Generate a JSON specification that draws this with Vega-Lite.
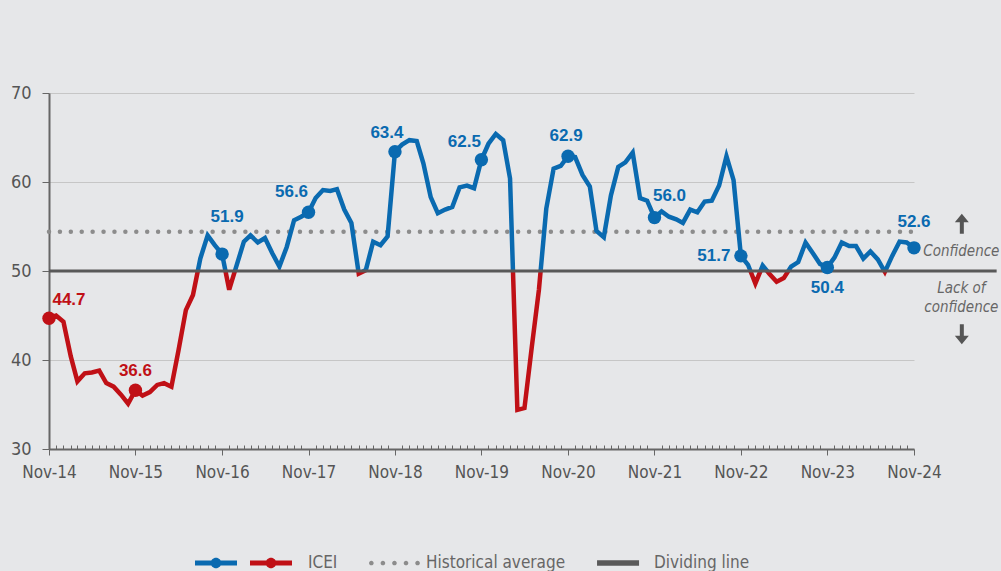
{
  "$schema": "https://vega.github.io/schema/vega-lite/v6.json",
  "width": 865,
  "height": 356,
  "autosize": "none",
  "padding": {"left": 49, "top": 93, "right": 87, "bottom": 122},
  "background": "#e6e7e9",
  "config": {
    "view": {"stroke": null},
    "axis": {"labelFont": "DejaVu Sans Condensed, sans-serif"},
    "text": {"font": "Liberation Sans, sans-serif"},
    "legend": {"labelFont": "DejaVu Sans Condensed, sans-serif"}
  },
  "resolve": {
    "scale": {"fill": "independent", "shape": "independent"},
    "legend": {"fill": "independent", "shape": "independent"}
  },
  "datasets": {
    "icei": [
      {"d": "2014-11-01T00:00", "v": 44.7}, {"d": "2014-12-01T00:00", "v": 45.0},
      {"d": "2015-01-01T00:00", "v": 44.3}, {"d": "2015-02-01T00:00", "v": 40.4},
      {"d": "2015-03-01T00:00", "v": 37.6}, {"d": "2015-04-01T00:00", "v": 38.5},
      {"d": "2015-05-01T00:00", "v": 38.6}, {"d": "2015-06-01T00:00", "v": 38.8},
      {"d": "2015-07-01T00:00", "v": 37.4}, {"d": "2015-08-01T00:00", "v": 37.0},
      {"d": "2015-09-01T00:00", "v": 36.1}, {"d": "2015-10-01T00:00", "v": 35.1},
      {"d": "2015-11-01T00:00", "v": 36.6}, {"d": "2015-12-01T00:00", "v": 36.0},
      {"d": "2016-01-01T00:00", "v": 36.4}, {"d": "2016-02-01T00:00", "v": 37.2},
      {"d": "2016-03-01T00:00", "v": 37.4}, {"d": "2016-04-01T00:00", "v": 37.0},
      {"d": "2016-05-01T00:00", "v": 41.1}, {"d": "2016-06-01T00:00", "v": 45.6},
      {"d": "2016-07-01T00:00", "v": 47.3}, {"d": "2016-08-01T00:00", "v": 51.4},
      {"d": "2016-09-01T00:00", "v": 54.0}, {"d": "2016-10-01T00:00", "v": 52.9},
      {"d": "2016-11-01T00:00", "v": 51.9}, {"d": "2016-12-01T00:00", "v": 47.9},
      {"d": "2017-01-01T00:00", "v": 50.6}, {"d": "2017-02-01T00:00", "v": 53.3},
      {"d": "2017-03-01T00:00", "v": 54.0}, {"d": "2017-04-01T00:00", "v": 53.2},
      {"d": "2017-05-01T00:00", "v": 53.7}, {"d": "2017-06-01T00:00", "v": 52.0},
      {"d": "2017-07-01T00:00", "v": 50.5}, {"d": "2017-08-01T00:00", "v": 52.7},
      {"d": "2017-09-01T00:00", "v": 55.7}, {"d": "2017-10-01T00:00", "v": 56.1},
      {"d": "2017-11-01T00:00", "v": 56.6}, {"d": "2017-12-01T00:00", "v": 58.2},
      {"d": "2018-01-01T00:00", "v": 59.1}, {"d": "2018-02-01T00:00", "v": 59.0},
      {"d": "2018-03-01T00:00", "v": 59.2}, {"d": "2018-04-01T00:00", "v": 56.9},
      {"d": "2018-05-01T00:00", "v": 55.4}, {"d": "2018-06-01T00:00", "v": 49.7},
      {"d": "2018-07-01T00:00", "v": 50.1}, {"d": "2018-08-01T00:00", "v": 53.3},
      {"d": "2018-09-01T00:00", "v": 52.9}, {"d": "2018-10-01T00:00", "v": 53.9},
      {"d": "2018-11-01T00:00", "v": 63.4}, {"d": "2018-12-01T00:00", "v": 64.2},
      {"d": "2019-01-01T00:00", "v": 64.7}, {"d": "2019-02-01T00:00", "v": 64.6},
      {"d": "2019-03-01T00:00", "v": 62.1}, {"d": "2019-04-01T00:00", "v": 58.3},
      {"d": "2019-05-01T00:00", "v": 56.5}, {"d": "2019-06-01T00:00", "v": 56.9},
      {"d": "2019-07-01T00:00", "v": 57.2}, {"d": "2019-08-01T00:00", "v": 59.4},
      {"d": "2019-09-01T00:00", "v": 59.6}, {"d": "2019-10-01T00:00", "v": 59.3},
      {"d": "2019-11-01T00:00", "v": 62.5}, {"d": "2019-12-01T00:00", "v": 64.3},
      {"d": "2020-01-01T00:00", "v": 65.4}, {"d": "2020-02-01T00:00", "v": 64.7},
      {"d": "2020-03-01T00:00", "v": 60.4}, {"d": "2020-04-01T00:00", "v": 34.4},
      {"d": "2020-05-01T00:00", "v": 34.6}, {"d": "2020-06-01T00:00", "v": 41.5},
      {"d": "2020-07-01T00:00", "v": 47.9}, {"d": "2020-08-01T00:00", "v": 57.0},
      {"d": "2020-09-01T00:00", "v": 61.5}, {"d": "2020-10-01T00:00", "v": 61.8},
      {"d": "2020-11-01T00:00", "v": 62.9}, {"d": "2020-12-01T00:00", "v": 62.8},
      {"d": "2021-01-01T00:00", "v": 60.8}, {"d": "2021-02-01T00:00", "v": 59.5},
      {"d": "2021-03-01T00:00", "v": 54.5}, {"d": "2021-04-01T00:00", "v": 53.8},
      {"d": "2021-05-01T00:00", "v": 58.5}, {"d": "2021-06-01T00:00", "v": 61.7},
      {"d": "2021-07-01T00:00", "v": 62.2}, {"d": "2021-08-01T00:00", "v": 63.3},
      {"d": "2021-09-01T00:00", "v": 58.2}, {"d": "2021-10-01T00:00", "v": 57.9},
      {"d": "2021-11-01T00:00", "v": 56.0}, {"d": "2021-12-01T00:00", "v": 56.7},
      {"d": "2022-01-01T00:00", "v": 56.1}, {"d": "2022-02-01T00:00", "v": 55.8},
      {"d": "2022-03-01T00:00", "v": 55.4}, {"d": "2022-04-01T00:00", "v": 56.9},
      {"d": "2022-05-01T00:00", "v": 56.6}, {"d": "2022-06-01T00:00", "v": 57.8},
      {"d": "2022-07-01T00:00", "v": 57.9}, {"d": "2022-08-01T00:00", "v": 59.6},
      {"d": "2022-09-01T00:00", "v": 62.9}, {"d": "2022-10-01T00:00", "v": 60.2},
      {"d": "2022-11-01T00:00", "v": 51.7}, {"d": "2022-12-01T00:00", "v": 50.7},
      {"d": "2023-01-01T00:00", "v": 48.6}, {"d": "2023-02-01T00:00", "v": 50.6},
      {"d": "2023-03-01T00:00", "v": 49.7}, {"d": "2023-04-01T00:00", "v": 48.8},
      {"d": "2023-05-01T00:00", "v": 49.2}, {"d": "2023-06-01T00:00", "v": 50.5},
      {"d": "2023-07-01T00:00", "v": 51.0}, {"d": "2023-08-01T00:00", "v": 53.2},
      {"d": "2023-09-01T00:00", "v": 52.0}, {"d": "2023-10-01T00:00", "v": 50.8},
      {"d": "2023-11-01T00:00", "v": 50.4}, {"d": "2023-12-01T00:00", "v": 51.5},
      {"d": "2024-01-01T00:00", "v": 53.2}, {"d": "2024-02-01T00:00", "v": 52.8},
      {"d": "2024-03-01T00:00", "v": 52.8}, {"d": "2024-04-01T00:00", "v": 51.4},
      {"d": "2024-05-01T00:00", "v": 52.2}, {"d": "2024-06-01T00:00", "v": 51.3},
      {"d": "2024-07-01T00:00", "v": 49.9}, {"d": "2024-08-01T00:00", "v": 51.7},
      {"d": "2024-09-01T00:00", "v": 53.3}, {"d": "2024-10-01T00:00", "v": 53.2},
      {"d": "2024-11-01T00:00", "v": 52.6}
    ]
  },
  "data": {"name": "icei"},
  "encoding": {
    "x": {
      "field": "d", "type": "temporal", "title": null,
      "scale": {"domain": [{"year": 2014, "month": 11, "date": 1}, {"year": 2024, "month": 11, "date": 1}], "nice": false},
      "axis": {
        "format": "%b-%y",
        "tickCount": {"interval": "month", "step": 1},
        "labelExpr": "month(datum.value) == 10 ? datum.label : ''",
        "labelOverlap": false, "labelFlush": false, "labelBound": false,
        "labelFontSize": 17, "labelColor": "#555", "labelPadding": 9,
        "tickSize": {"condition": {"test": "month(datum.value) == 10", "value": 6}, "value": -4},
        "tickColor": "#666", "tickWidth": 1,
        "domainColor": "#666", "domainWidth": 2, "grid": false
      }
    },
    "y": {
      "field": "v", "type": "quantitative", "title": null,
      "scale": {"domain": [30, 70], "nice": false, "zero": false},
      "axis": {
        "values": [30, 40, 50, 60, 70],
        "labelFontSize": 18, "labelColor": "#555", "labelPadding": 11,
        "tickSize": 7, "tickColor": "#666", "tickWidth": 1,
        "domainColor": "#666", "domainWidth": 2,
        "grid": true, "gridColor": "#c6c6c6", "gridWidth": 1
      }
    }
  },
  "layer": [
    {
      "data": {"values": [{"d": "2014-11-01T00:00", "d2": "2024-11-01T00:00", "v": 54.4}]},
      "mark": {"type": "rule", "color": "#8c8c8c", "strokeWidth": 4.5, "strokeDash": [0.01, 10.9], "strokeCap": "round"},
      "encoding": {"x2": {"field": "d2"}}
    },
    {
      "mark": {
        "type": "line", "strokeWidth": 4.5,
        "stroke": {
          "gradient": "linear", "x1": 0, "y1": 0, "x2": 0, "y2": 1,
          "stops": [
            {"offset": 0, "color": "#0a6ab0"},
            {"offset": 0.4968, "color": "#0a6ab0"},
            {"offset": 0.4968, "color": "#c01016"},
            {"offset": 1, "color": "#c01016"}
          ]
        }
      }
    },
    {
      "data": {"values": [{"d": "2014-11-01T00:00", "d2": "2025-10-16T00:00", "v": 50}]},
      "mark": {"type": "rule", "color": "#595959", "strokeWidth": 3},
      "encoding": {"x2": {"field": "d2"}}
    },
    {
      "transform": [{"filter": {"field": "d", "timeUnit": "month", "equal": 11}}],
      "mark": {"type": "point", "filled": true, "size": 180, "opacity": 1},
      "encoding": {"color": {"condition": {"test": "datum.v < 50", "value": "#c01016"}, "value": "#0a6ab0"}}
    },
    {
      "transform": [{"filter": {"field": "d", "timeUnit": "year", "equal": 2014}}, {"filter": {"field": "d", "timeUnit": "month", "equal": 11}}],
      "mark": {"type": "text", "dx": 20, "dy": -18, "fontSize": 17, "fontWeight": "bold"},
      "encoding": {"text": {"field": "v", "type": "quantitative", "format": ".1f"}, "color": {"condition": {"test": "datum.v < 50", "value": "#c01016"}, "value": "#0a6ab0"}}
    },
    {
      "transform": [{"filter": {"field": "d", "timeUnit": "year", "equal": 2015}}, {"filter": {"field": "d", "timeUnit": "month", "equal": 11}}],
      "mark": {"type": "text", "dx": 0, "dy": -19, "fontSize": 17, "fontWeight": "bold"},
      "encoding": {"text": {"field": "v", "type": "quantitative", "format": ".1f"}, "color": {"condition": {"test": "datum.v < 50", "value": "#c01016"}, "value": "#0a6ab0"}}
    },
    {
      "transform": [{"filter": {"field": "d", "timeUnit": "year", "equal": 2016}}, {"filter": {"field": "d", "timeUnit": "month", "equal": 11}}],
      "mark": {"type": "text", "dx": 5, "dy": -37, "fontSize": 17, "fontWeight": "bold"},
      "encoding": {"text": {"field": "v", "type": "quantitative", "format": ".1f"}, "color": {"condition": {"test": "datum.v < 50", "value": "#c01016"}, "value": "#0a6ab0"}}
    },
    {
      "transform": [{"filter": {"field": "d", "timeUnit": "year", "equal": 2017}}, {"filter": {"field": "d", "timeUnit": "month", "equal": 11}}],
      "mark": {"type": "text", "dx": -17, "dy": -20, "fontSize": 17, "fontWeight": "bold"},
      "encoding": {"text": {"field": "v", "type": "quantitative", "format": ".1f"}, "color": {"condition": {"test": "datum.v < 50", "value": "#c01016"}, "value": "#0a6ab0"}}
    },
    {
      "transform": [{"filter": {"field": "d", "timeUnit": "year", "equal": 2018}}, {"filter": {"field": "d", "timeUnit": "month", "equal": 11}}],
      "mark": {"type": "text", "dx": -8, "dy": -19, "fontSize": 17, "fontWeight": "bold"},
      "encoding": {"text": {"field": "v", "type": "quantitative", "format": ".1f"}, "color": {"condition": {"test": "datum.v < 50", "value": "#c01016"}, "value": "#0a6ab0"}}
    },
    {
      "transform": [{"filter": {"field": "d", "timeUnit": "year", "equal": 2019}}, {"filter": {"field": "d", "timeUnit": "month", "equal": 11}}],
      "mark": {"type": "text", "dx": -17, "dy": -18, "fontSize": 17, "fontWeight": "bold"},
      "encoding": {"text": {"field": "v", "type": "quantitative", "format": ".1f"}, "color": {"condition": {"test": "datum.v < 50", "value": "#c01016"}, "value": "#0a6ab0"}}
    },
    {
      "transform": [{"filter": {"field": "d", "timeUnit": "year", "equal": 2020}}, {"filter": {"field": "d", "timeUnit": "month", "equal": 11}}],
      "mark": {"type": "text", "dx": -2, "dy": -20, "fontSize": 17, "fontWeight": "bold"},
      "encoding": {"text": {"field": "v", "type": "quantitative", "format": ".1f"}, "color": {"condition": {"test": "datum.v < 50", "value": "#c01016"}, "value": "#0a6ab0"}}
    },
    {
      "transform": [{"filter": {"field": "d", "timeUnit": "year", "equal": 2021}}, {"filter": {"field": "d", "timeUnit": "month", "equal": 11}}],
      "mark": {"type": "text", "dx": 15, "dy": -22, "fontSize": 17, "fontWeight": "bold"},
      "encoding": {"text": {"field": "v", "type": "quantitative", "format": ".1f"}, "color": {"condition": {"test": "datum.v < 50", "value": "#c01016"}, "value": "#0a6ab0"}}
    },
    {
      "transform": [{"filter": {"field": "d", "timeUnit": "year", "equal": 2022}}, {"filter": {"field": "d", "timeUnit": "month", "equal": 11}}],
      "mark": {"type": "text", "dx": -27, "dy": 0, "fontSize": 17, "fontWeight": "bold"},
      "encoding": {"text": {"field": "v", "type": "quantitative", "format": ".1f"}, "color": {"condition": {"test": "datum.v < 50", "value": "#c01016"}, "value": "#0a6ab0"}}
    },
    {
      "transform": [{"filter": {"field": "d", "timeUnit": "year", "equal": 2023}}, {"filter": {"field": "d", "timeUnit": "month", "equal": 11}}],
      "mark": {"type": "text", "dx": 0, "dy": 21, "fontSize": 17, "fontWeight": "bold"},
      "encoding": {"text": {"field": "v", "type": "quantitative", "format": ".1f"}, "color": {"condition": {"test": "datum.v < 50", "value": "#c01016"}, "value": "#0a6ab0"}}
    },
    {
      "transform": [{"filter": {"field": "d", "timeUnit": "year", "equal": 2024}}, {"filter": {"field": "d", "timeUnit": "month", "equal": 11}}],
      "mark": {"type": "text", "dx": 0, "dy": -26, "fontSize": 17, "fontWeight": "bold"},
      "encoding": {"text": {"field": "v", "type": "quantitative", "format": ".1f"}, "color": {"condition": {"test": "datum.v < 50", "value": "#c01016"}, "value": "#0a6ab0"}}
    },
    {
      "data": {"values": [
        {"d": "2025-05-20T00:00", "v": 52.2, "t": "Confidence"},
        {"d": "2025-05-20T00:00", "v": 48.1, "t": "Lack of"},
        {"d": "2025-05-20T00:00", "v": 46.0, "t": "confidence"}
      ]},
      "mark": {"type": "text", "font": "DejaVu Sans Condensed, sans-serif", "fontSize": 15, "fontStyle": "italic", "color": "#666"},
      "encoding": {"text": {"field": "t"}}
    },
    {
      "data": {"values": [{"d": "2025-05-22T00:00", "v": 55.3}]},
      "mark": {"type": "point", "shape": "M-0.2,1H0.2V-0.15H0.7L0,-1L-0.7,-0.15H-0.2Z", "size": 400, "filled": true, "color": "#555", "opacity": 1}
    },
    {
      "data": {"values": [{"d": "2025-05-22T00:00", "v": 42.9}]},
      "mark": {"type": "point", "shape": "M-0.2,-1H0.2V0.15H0.7L0,1L-0.7,0.15H-0.2Z", "size": 400, "filled": true, "color": "#555", "opacity": 1}
    },
    {
      "data": {"values": [{"k2": "ICEI above 50"}]},
      "mark": {"type": "point", "filled": true, "opacity": 0},
      "encoding": {
        "fill": {
          "field": "k2", "type": "nominal",
          "scale": {"domain": ["ICEI above 50"], "range": ["#0a6ab0"]},
          "legend": {
            "orient": "none", "legendX": 146, "legendY": 449,
            "direction": "horizontal", "title": null, "padding": 0,
            "symbolType": "M-1,-0.12H1V0.12H-1Z M0.25,0A0.25,0.25 0 1,1 -0.25,0A0.25,0.25 0 1,1 0.25,0Z",
            "symbolSize": 1764, "symbolStrokeWidth": 0, "symbolOpacity": 1,
            "labelExpr": "''", "labelFontSize": 17, "labelOffset": 16
          }
        }
      }
    },
    {
      "data": {"values": [{"k": "ICEI"}, {"k": "Historical average"}, {"k": "Dividing line"}]},
      "mark": {"type": "point", "filled": true, "opacity": 0},
      "encoding": {
        "fill": {
          "field": "k", "type": "nominal",
          "scale": {"domain": ["ICEI", "Historical average", "Dividing line"], "range": ["#c01016", "#8c8c8c", "#595959"]},
          "legend": {
            "orient": "none", "legendX": 201, "legendY": 449,
            "direction": "horizontal", "title": null, "padding": 0,
            "symbolSize": 1764, "symbolStrokeWidth": 0, "symbolOpacity": 1,
            "labelLimit": 300, "labelFontSize": 17, "labelColor": "#666", "labelOffset": 16, "columnPadding": 30
          }
        },
        "shape": {
          "field": "k", "type": "nominal",
          "scale": {
            "domain": ["ICEI", "Historical average", "Dividing line"],
            "range": [
              "M-1,-0.12H1V0.12H-1Z M0.25,0A0.25,0.25 0 1,1 -0.25,0A0.25,0.25 0 1,1 0.25,0Z",
              "M-0.73,0A0.11,0.11 0 1,1 -0.95,0A0.11,0.11 0 1,1 -0.73,0Z M-0.18,0A0.11,0.11 0 1,1 -0.4,0A0.11,0.11 0 1,1 -0.18,0Z M0.37,0A0.11,0.11 0 1,1 0.15,0A0.11,0.11 0 1,1 0.37,0Z M0.92,0A0.11,0.11 0 1,1 0.7,0A0.11,0.11 0 1,1 0.92,0Z M1.47,0A0.11,0.11 0 1,1 1.25,0A0.11,0.11 0 1,1 1.47,0Z",
              "M-0.95,-0.13H1.05V0.13H-0.95Z"
            ]
          },
          "legend": {
            "orient": "none", "legendX": 201, "legendY": 449,
            "direction": "horizontal", "title": null, "padding": 0,
            "symbolSize": 1764, "symbolStrokeWidth": 0, "symbolOpacity": 1,
            "labelLimit": 300, "labelFontSize": 17, "labelColor": "#666", "labelOffset": 16, "columnPadding": 30
          }
        }
      }
    }
  ]
}
